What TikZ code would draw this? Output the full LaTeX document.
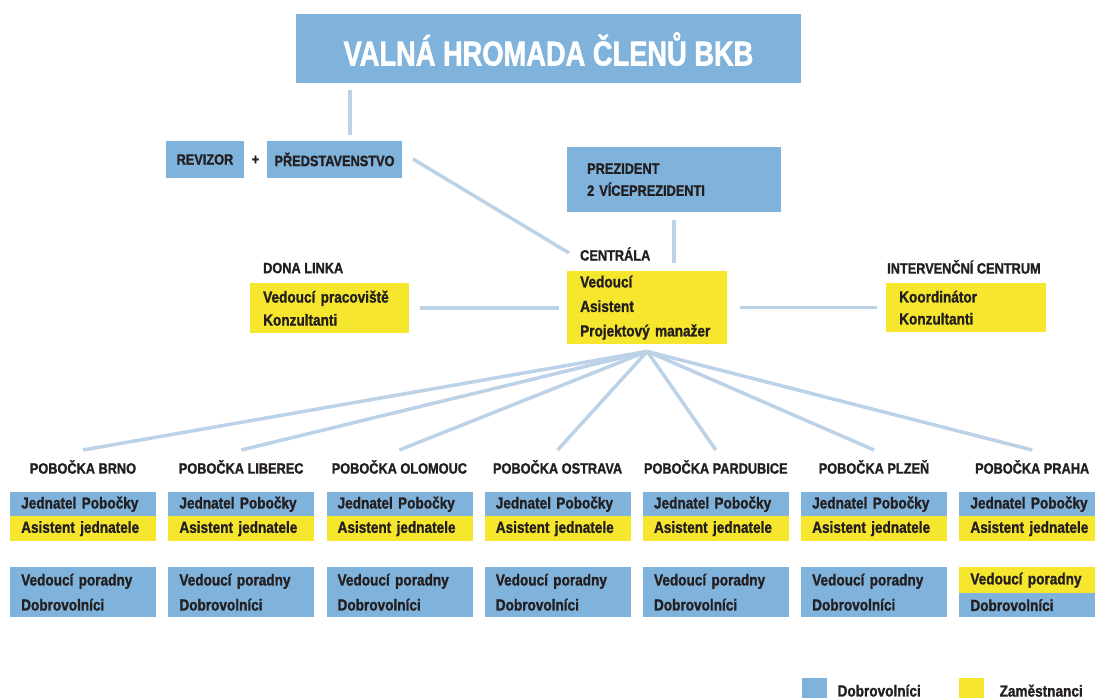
\documentclass[tikz,border=0pt]{standalone}
\usepackage{fontspec}
\setmainfont{Liberation Sans}[FakeStretch=0.85,BoldFeatures={FakeBold=1.2}]
\newfontfamily\titlefont{Liberation Sans}[FakeStretch=0.79,BoldFeatures={FakeBold=1.5}]
\usetikzlibrary{calc}
\definecolor{cblue}{HTML}{80B3DC}
\definecolor{cyel}{HTML}{F6E62E}
\definecolor{cline}{HTML}{BCD2E6}
\definecolor{ink}{HTML}{231F20}
\begin{document}
\begin{tikzpicture}[x=1pt,y=-1pt,
  conn/.style={draw=cline,line width=3.5pt},
  hdr/.style={font=\fontsize{15}{15}\selectfont\bfseries,text=ink,inner sep=0pt},
  bx/.style={font=\fontsize{16}{#1}\selectfont\bfseries,text=ink,inner sep=0pt,anchor=north west,align=left},
  bx/.default=24,
  bbox/.style={bx=16,minimum width=146pt,text width=124pt}]
\useasboundingbox (0,0) rectangle (1095,698);

% top
\node[fill=cblue,minimum width=505pt,minimum height=69pt,inner sep=0pt,
  font=\titlefont\fontsize{34.5}{34.5}\selectfont\bfseries,text=white] (title) at (548.5,49) {VALNÁ HROMADA ČLENŮ BKB};
\node[fill=cblue,hdr,minimum width=78pt,minimum height=37pt] (rev) at (205,159.5) {REVIZOR};
\node[hdr] (plus) at (255.5,160) {+};
\node[fill=cblue,hdr,minimum width=135pt,minimum height=37pt] (pred) at (334.5,159.5) {PŘEDSTAVENSTVO};
\node[fill=cblue,font=\fontsize{15}{22}\selectfont\bfseries,text=ink,inner sep=0pt,align=left,
  minimum width=214pt,minimum height=65pt,text width=174pt,anchor=north west] (prez) at (567,147) {PREZIDENT\\2 VÍCEPREZIDENTI};

% centrala
\node[hdr,anchor=west] (clabel) at (580,254) {CENTRÁLA};
\node[bx=24.5,fill=cyel,minimum width=160pt,minimum height=73pt,text width=134pt] (centrala) at (567,271) {Vedoucí\\Asistent\\Projektový manažer};
\node[hdr,anchor=west] (dlabel) at (263,268) {DONA LINKA};
\node[bx=23,fill=cyel,minimum width=159pt,minimum height=50pt,text width=133pt] (dona) at (250,283) {Vedoucí pracoviště\\Konzultanti};
\node[hdr,anchor=west] (ilabel) at (887,267) {INTERVENČNÍ CENTRUM};
\node[bx=22,fill=cyel,minimum width=160pt,minimum height=49pt,text width=134pt] (inter) at (886,283) {Koordinátor\\Konzultanti};

% connectors
\draw[conn,shorten <=6pt,shorten >=6pt] ([xshift=15.5pt]pred.north) -- ([xshift=15.5pt]pred.north |- title.south);
\coordinate (p1) at (413,159);
\coordinate (p2) at (569,253);
\draw[conn] (p1) -- (p2);
\draw[conn,shorten <=8pt,shorten >=8pt] (prez.south) -- (prez.south |- centrala.north);
\draw[conn,shorten <=11pt,shorten >=8pt] (dona.east) -- (dona.east -| centrala.west);
\draw[conn,shorten <=13pt,shorten >=9pt] (centrala.east |- inter.west) -- (inter.west);
\coordinate (fan) at ($(centrala.south)+(0,7)$);

% branches
\foreach \i/\nm in {0/BRNO,1/LIBEREC,2/OLOMOUC,3/OSTRAVA,4/PARDUBICE,5/PLZEŇ,6/PRAHA}{
  \pgfmathsetmacro\L{10+158.2*\i}
  \pgfmathsetmacro\C{\L+73}
  \coordinate (e\i) at (\C,450);
  \draw[conn] (fan) -- (e\i);
  \node[hdr] (h\i) at (\C,467) {POBOČKA \nm};
  \node[bbox,fill=cblue,minimum height=24pt] (j\i) at (\L,492) {Jednatel Pobočky};
  \node[bbox,fill=cyel,minimum height=25pt] (a\i) at (\L,516) {Asistent jednatele};
}
\foreach \i in {0,...,5}{
  \pgfmathsetmacro\L{10+158.2*\i}
  \node[bbox,bx=25,fill=cblue,minimum height=50pt] (v\i) at (\L,567) {Vedoucí poradny\\Dobrovolníci};
}
\node[bbox,fill=cyel,minimum height=26pt] (v6) at (959.2,567) {Vedoucí poradny};
\node[bbox,fill=cblue,minimum height=24pt] (d6) at (959.2,593) {Dobrovolníci};

% legend
\node[fill=cblue,minimum size=25pt,inner sep=0pt,anchor=north west] (lb) at (802,678) {};
\node[bx,anchor=west] (lbt) at ($(lb.east)+(10,0)$) {Dobrovolníci};
\node[fill=cyel,minimum size=25pt,inner sep=0pt,anchor=north west] (ly) at (959,678) {};
\node[bx,anchor=west] (lyt) at ($(ly.east)+(15,0)$) {Zaměstnanci};
\end{tikzpicture}
\end{document}
